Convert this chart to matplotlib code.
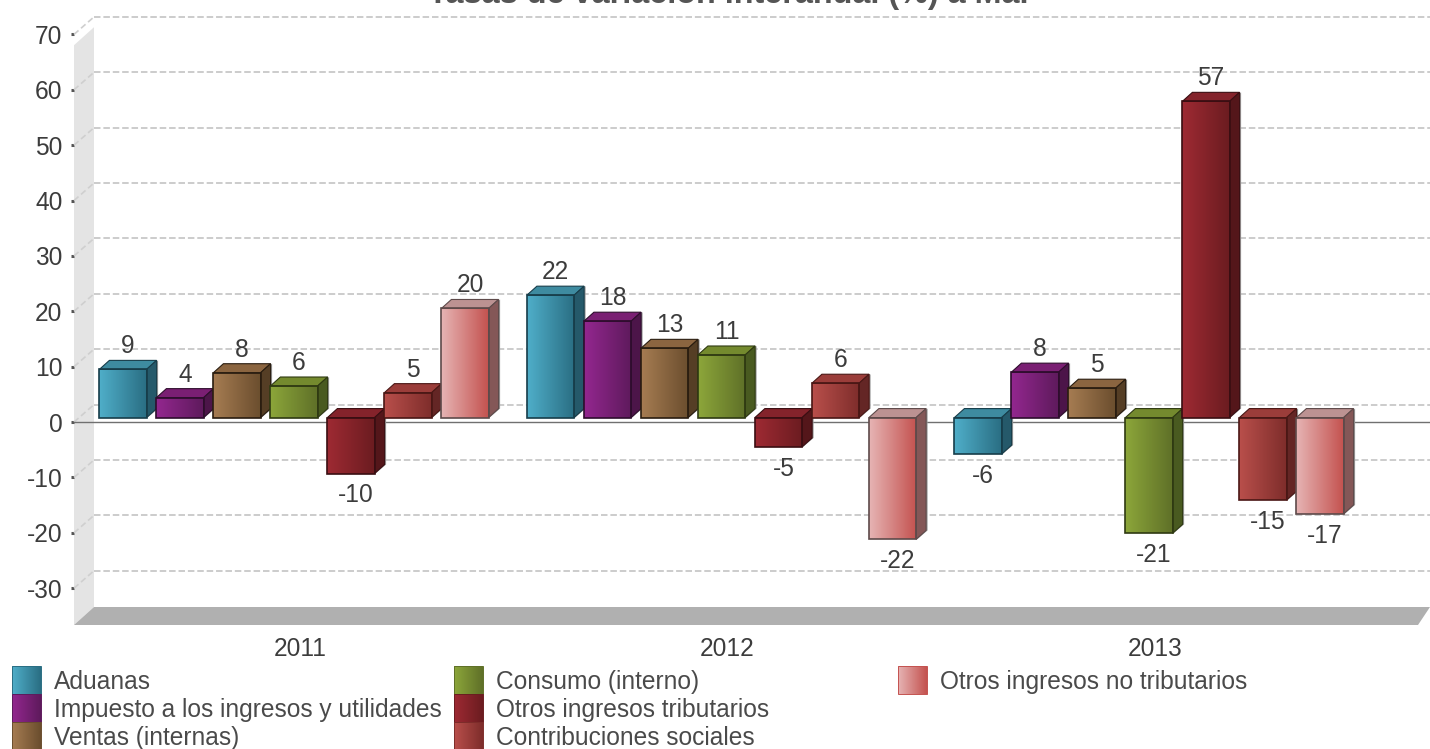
import numpy as np
import matplotlib
matplotlib.use('Agg')
import matplotlib.pyplot as plt
from matplotlib.colors import LinearSegmentedColormap
from matplotlib.patches import Polygon, Rectangle

plt.rcParams['font.family'] = ['Liberation Sans', 'DejaVu Sans']

years = ['2011', '2012', '2013']
series = ['Aduanas', 'Impuesto a los ingresos y utilidades', 'Ventas (internas)',
          'Consumo (interno)', 'Otros ingresos tributarios', 'Contribuciones sociales',
          'Otros ingresos no tributarios']
# heights, labels are the rounded ones
aduanas = [8.7, 22.1, -6.6]
impuesto = [3.6, 17.4, 8.2]
ventas = [8.1, 12.5, 5.3]
consumo = [5.7, 11.3, -20.9]
otros_trib = [-10.1, -5.3, 57.1]
contrib = [4.5, 6.2, -14.9]
otros_no_trib = [19.7, -22.0, -17.4]
labels = [[9, 22, -6], [4, 18, 8], [8, 13, 5], [6, 11, -21], [-10, -5, 57], [5, 6, -15], [20, -22, -17]]
values = [aduanas, impuesto, ventas, consumo, otros_trib, contrib, otros_no_trib]
left_cols = ['#4FAEC9', '#93278F', '#A67C52', '#8CA63A', '#9E2A33', '#B94F4B', '#E6B4B4']
right_cols = ['#2A6E83', '#5E1A5C', '#6B4E2E', '#5F7028', '#6B1C20', '#7E2D2B', '#C4524F']
top_cols = ['#3E8BA0', '#7A1F73', '#8B6540', '#748A2E', '#84232B', '#9B3D3A', '#BC9292']
side_cols = ['#25596A', '#4C1549', '#553E25', '#495A20', '#54161A', '#642625', '#845757']
edge_cols = ['#173d4a', '#2e0d2d', '#2a1d10', '#2f3a12', '#3a0e12', '#4a1715', '#5e4a4a']
TEXT = '#3c3c3c'
FS = 17.65

W, H = 1430, 749
fig = plt.figure(figsize=(W / 100, H / 100), dpi=100)
# px helpers for the 3d look
PX_Y = 5.54   # px per unit
PX_X = 427.5  # px per category
x0_px, x1_px, y_top_px, y_bot_px = 74, 1418, 34.4, 625
zero_px = 422
ax = fig.add_axes([x0_px / W, 1 - y_bot_px / H, (x1_px - x0_px) / W, (y_bot_px - y_top_px) / H])
ax.set_ylim((zero_px - y_bot_px) / PX_Y, (zero_px - y_top_px) / PX_Y)
ax.set_xlim((x0_px - 300) / PX_X, (x1_px - 300) / PX_X)
for s in ax.spines.values():
    s.set_visible(False)
ax.patch.set_visible(False)


def dx(px):
    return px / PX_X


def dy(px):
    return px / PX_Y


def grad(a, c1, c2, extent, zorder):
    cm = LinearSegmentedColormap.from_list('g', [c1, c2])
    a.imshow(np.linspace(0, 1, 64).reshape(1, -1), cmap=cm, extent=extent, aspect='auto',
             interpolation='bilinear', zorder=zorder)


# walls and floor
xl, xr = ax.get_xlim()
yb, yt = ax.get_ylim()
ax.add_patch(Polygon([(xl, yb), (xl + dx(20), yb + dy(18)), (xl + dx(20), dy(422 - 27)), (xl, dy(422 - 45))],
                     fc='#e4e4e4', ec='none', zorder=1, clip_on=False))
ax.add_patch(Polygon([(xl, yb), (xl + dx(20), yb + dy(18)), (xr + dx(12), yb + dy(18)), (xr, yb)],
                     fc='#b0b0b0', ec='none', zorder=1, clip_on=False))

# gridlines: back plane + short diagonal over the wall
ticks = np.arange(-30, 71, 10)
for t in ticks:
    ax.plot([xl + dx(20), xr + dx(12)], [t + dy(17.5)] * 2, color='#c8c8c8', lw=1.3, ls=(0, (3.6, 1.6)),
            zorder=2, clip_on=False)
    ax.plot([xl, xl + dx(20)], [t, t + dy(17.5)], color='#cfcfcf', lw=1.2, ls=(0, (3.6, 2)),
            zorder=2, clip_on=False)
ax.plot([xl, xr + dx(12)], [0, 0], color='#707070', lw=1, zorder=3, clip_on=False)

# bars
base = dy(4.5)  # front face sits a little above the zero line
bar_w = 47.2 / PX_X
step = 57 / PX_X
dep_x, dep_y = dx(10), dy(9)
starts = (np.arange(7) - 3.5) * step + 0.5 * (step - bar_w) - dx(6)
for i, vals in enumerate(values):
    for j, v in enumerate(vals):
        x = j + starts[i]
        lo, hi = min(base, base + v), max(base, base + v)
        z = 5 + j * 10 + i
        e = edge_cols[i]
        # faint shadow right of the side face
        ax.add_patch(Polygon([(x + bar_w + dx(1), lo), (x + bar_w + dep_x + dx(1.5), lo + dep_y),
                              (x + bar_w + dep_x + dx(1.5), hi + dep_y), (x + bar_w + dx(1), hi)],
                             fc='#999999', ec='none', zorder=z))
        grad(ax, left_cols[i], right_cols[i], [x, x + bar_w, lo, hi], z + 0.1)
        ax.add_patch(Polygon([(x, lo), (x + bar_w, lo), (x + bar_w, hi), (x, hi)], fc='none', ec=e, lw=1.2,
                             zorder=z + 0.3))
        ax.add_patch(Polygon([(x, hi), (x + dep_x, hi + dep_y), (x + bar_w + dep_x, hi + dep_y), (x + bar_w, hi)],
                             fc=top_cols[i], ec=e, lw=0.8, zorder=z + 0.2))
        ax.add_patch(Polygon([(x + bar_w, lo), (x + bar_w + dep_x, lo + dep_y), (x + bar_w + dep_x, hi + dep_y), (x + bar_w, hi)],
                             fc=side_cols[i], ec=e, lw=0.8, zorder=z + 0.2))
        cx = x + bar_w / 2 + dx(5)
        if v >= 0:
            ax.text(cx, hi + dy(23), str(labels[i][j]), ha='center', va='center', fontsize=FS, color=TEXT, zorder=200)
        else:
            ax.text(cx, lo - dy(22), str(labels[i][j]), ha='center', va='center', fontsize=FS, color=TEXT, zorder=200)

ax.set_xlim(xl, xr)
ax.set_ylim(yb, yt)
ax.set_yticks(ticks)
ax.set_yticklabels([str(t) for t in ticks], fontsize=FS, color=TEXT)
ax.tick_params(axis='y', length=2.2, width=2.2, color='#555555', pad=6, direction='out')
ax.set_xticks(range(3))
ax.set_xticklabels(years, fontsize=FS, color=TEXT)
ax.tick_params(axis='x', length=0, pad=8.5)

fig.text(730 / W, 1 - 10 / H, 'Tasas de variación interanual (%) a Mar', ha='center', va='bottom', fontsize=23.3,
         fontweight='bold', color='#555555')

# legend in px
lg = fig.add_axes([0, 0, 1, 1])
lg.set_xlim(0, W)
lg.set_ylim(H, 0)
lg.axis('off')
lg.patch.set_visible(False)
legend_x = [12, 12, 12, 454, 454, 454, 898]
legend_y = [666, 694, 722, 666, 694, 722, 666]
for i, name in enumerate(series):
    sx, sy = legend_x[i], legend_y[i]
    grad(lg, left_cols[i], right_cols[i], [sx, sx + 29, sy + 28, sy], 2)
    lg.add_patch(Rectangle((sx, sy), 29, 28, fc='none', ec=right_cols[i], lw=0.7, zorder=3))
    lg.text(sx + 42, sy + 16, name, fontsize=FS, color='#4a4a4a', va='center', ha='left')
lg.set_xlim(0, W)
lg.set_ylim(H, 0)

fig.savefig('out.png', dpi=100)
